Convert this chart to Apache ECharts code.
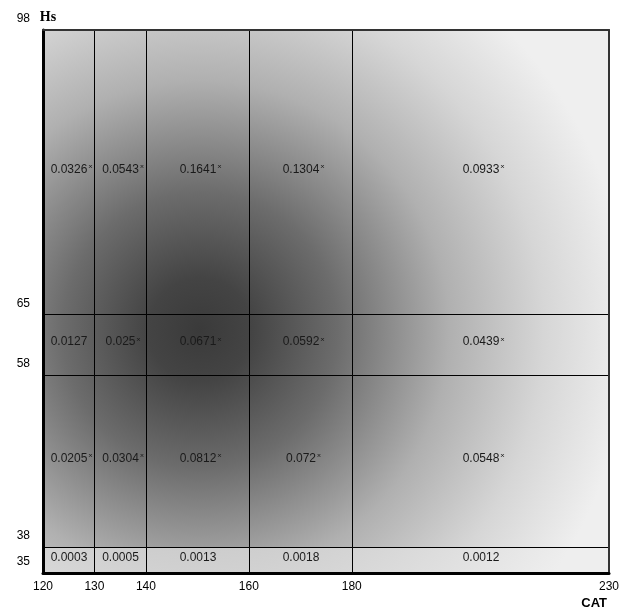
<!DOCTYPE html>
<html><head><meta charset="utf-8">
<script src="https://cdn.jsdelivr.net/npm/echarts@6/dist/echarts.min.js"></script>
<style>html,body{margin:0;padding:0;background:#fff}#c{width:634px;height:615px}</style>
</head><body><div id="c"></div>
<script>
// Cell boundaries
const xBreaks = [120, 130, 140, 160, 180, 230];
const yBreaks = [35, 38, 58, 65, 98];
// Tick labels
const xTickLabels = [120, 130, 140, 160, 180, 230];
const yTickLabels = [35, 38, 58, 65, 98];
// Cell values, rows from bottom to top, columns left to right
const row35to38 = ['0.0003', '0.0005', '0.0013', '0.0018', '0.0012'];
const row38to58 = ['0.0205', '0.0304', '0.0812', '0.072', '0.0548'];
const row58to65 = ['0.0127', '0.025', '0.0671', '0.0592', '0.0439'];
const row65to98 = ['0.0326', '0.0543', '0.1641', '0.1304', '0.0933'];
// Significance marks (1 = marked)
const mark35to38 = [0, 0, 0, 0, 0];
const mark38to58 = [1, 1, 1, 1, 1];
const mark58to65 = [0, 1, 1, 1, 1];
const mark65to98 = [1, 1, 1, 1, 1];
// Darkest point of the background shading (CAT, Hs)
const densityCenter = [150.5, 63.2];

const rows = [row35to38, row38to58, row58to65, row65to98];
const marks = [mark35to38, mark38to58, mark58to65, mark65to98];

const cells = [];
for (let r = 0; r < rows.length; r++) {
  for (let c = 0; c < rows[r].length; c++) {
    cells.push({ value: [xBreaks[c], xBreaks[c + 1], yBreaks[r], yBreaks[r + 1], r], label: rows[r][c], mark: marks[r][c] });
  }
}

const mainStops = [
  { offset: 0, color: '#3a3a3a' },
  { offset: 0.12, color: '#444444' },
  { offset: 0.32, color: '#6c6c6c' },
  { offset: 0.58, color: '#b0b0b0' },
  { offset: 0.8, color: '#d6d6d6' },
  { offset: 1, color: '#efefef' }
];
const lightStops = [
  { offset: 0, color: '#9a9a9a' },
  { offset: 0.4, color: '#c6c6c6' },
  { offset: 0.6, color: '#d3d3d3' },
  { offset: 0.8, color: '#e0e0e0' },
  { offset: 1, color: '#eeeeee' }
];

function renderItem(params, api) {
  const cell = cells[params.dataIndex];
  const [x0, x1, y0, y1, row] = cell.value;
  const p0 = api.coord([x0, y1]);
  const p1 = api.coord([x1, y0]);
  const c = api.coord(densityCenter);
  const left = Math.round(p0[0]) + 0.5, top = Math.round(p0[1]) + 0.5;
  const right = Math.round(p1[0]) + 0.5, bottom = Math.round(p1[1]) + 0.5;
  const txt = cell.mark ? '{p|}{v|' + cell.label + '}{s|ˣ}' : '{v|' + cell.label + '}';
  return {
    type: 'group',
    children: [
      {
        type: 'rect',
        shape: { x: left, y: top, width: right - left, height: bottom - top },
        style: {
          fill: { type: 'radial', x: c[0], y: c[1], r: 430, global: true, colorStops: row === 0 ? lightStops : mainStops },
          stroke: '#000', lineWidth: 1
        }
      },
      {
        type: 'text',
        x: (left + right) / 2,
        y: (top + bottom) / 2 - 3,
        style: {
          text: txt,
          align: 'center', verticalAlign: 'middle',
          fill: '#1a1a1a',
          rich: {
            v: { fontSize: 12, fontFamily: 'Liberation Sans', fill: '#1a1a1a', lineHeight: 14 },
            s: { fontSize: 11, fontFamily: 'DejaVu Sans', fill: '#1a1a1a', width: 6, lineHeight: 14 },
            p: { width: 6 }
          }
        }
      }
    ]
  };
}

const chart = echarts.init(document.getElementById('c'), null, { renderer: 'canvas' });
chart.setOption({
  animation: false,
  backgroundColor: '#fff',
  grid: { left: 43, right: 25, top: 30, bottom: 42 },
  xAxis: [
    {
      type: 'value', min: 120, max: 230, z: 3,
      axisLine: { show: true, lineStyle: { color: '#000', width: 3 } },
      axisTick: { show: false }, splitLine: { show: false },
      axisLabel: { customValues: xTickLabels, margin: 8, color: '#000', fontSize: 12, fontFamily: 'Liberation Sans' },
      name: 'CAT', nameLocation: 'end', nameGap: 0,
      nameTextStyle: { fontFamily: 'Liberation Sans', fontWeight: 'bold', fontSize: 13, color: '#000', align: 'right', verticalAlign: 'top', padding: [24, 2, 0, 0] }
    },
    {
      type: 'value', min: 120, max: 230, position: 'top', z: 3,
      axisLine: { show: true, onZero: false, lineStyle: { color: '#333', width: 2 } },
      axisTick: { show: false }, splitLine: { show: false }, axisLabel: { show: false }
    }
  ],
  yAxis: [
    {
      type: 'value', min: 35, max: 98, z: 3,
      axisLine: { show: true, lineStyle: { color: '#000', width: 3 } },
      axisTick: { show: false }, splitLine: { show: false },
      axisLabel: { customValues: yTickLabels, margin: 13, color: '#000', fontSize: 12, fontFamily: 'Liberation Sans', verticalAlign: 'bottom', padding: [0, 0, 5, 0] },
      name: 'Hs', nameLocation: 'end', nameGap: 13,
      nameTextStyle: { fontFamily: 'Liberation Serif', fontWeight: 'bold', fontSize: 14, color: '#000', align: 'center', verticalAlign: 'middle', padding: [0, 0, 0, 10] }
    },
    {
      type: 'value', min: 35, max: 98, position: 'right', z: 3,
      axisLine: { show: true, onZero: false, lineStyle: { color: '#333', width: 2 } },
      axisTick: { show: false }, splitLine: { show: false }, axisLabel: { show: false }
    }
  ],
  series: [{
    type: 'custom',
    z: 1,
    xAxisIndex: 0, yAxisIndex: 0,
    renderItem: renderItem,
    data: cells.map(d => d.value),
    silent: true
  }]
});
</script></body></html>
